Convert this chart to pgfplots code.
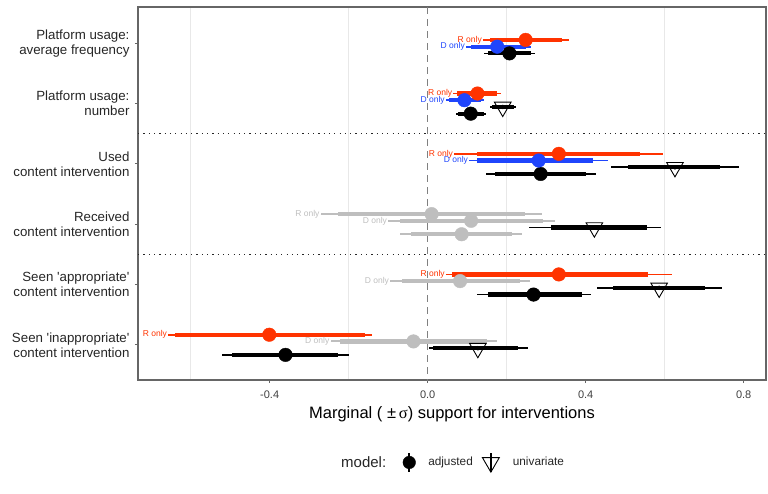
\documentclass[border=0pt]{standalone}
\usepackage{fontspec}
\setmainfont{Liberation Sans}
\newfontfamily\symfont{Liberation Serif}
\usepackage{pgfplots}
\pgfplotsset{compat=1.18}
\usepackage{pgfplotstable}

\definecolor{rred}{HTML}{FF3300}
\definecolor{dblue}{HTML}{1F45FC}
\definecolor{ngray}{HTML}{BEBEBE}

% columns: y position, estimate, thin interval (lo, hi), thick interval (lo, hi)
\pgfplotstableread{
y x tlo thi klo khi
0.944 0.248 0.140 0.358 0.157 0.340
1.833 0.126 0.065 0.185 0.075 0.176
2.833 0.332 0.067 0.595 0.124 0.537
4.833 0.332 0.046 0.619 0.061 0.559
5.833 -0.401 -0.657 -0.141 -0.639 -0.159
}\Rred
\pgfplotstableread{
y x tlo thi klo khi
3.833 0.010 -0.271 0.289 -0.226 0.246
}\Rgray
\pgfplotstableread{
y x tlo thi klo khi
1.056 0.176 0.097 0.262 0.110 0.248
1.944 0.093 0.046 0.142 0.054 0.134
2.944 0.281 0.105 0.457 0.124 0.419
}\Dblue
\pgfplotstableread{
y x tlo thi klo khi
3.944 0.110 -0.100 0.322 -0.070 0.293
4.944 0.082 -0.095 0.259 -0.066 0.234
5.944 -0.036 -0.246 0.175 -0.222 0.149
}\Dgray
\pgfplotstableread{
y x tlo thi klo khi
2.056 0.190 0.158 0.224 0.163 0.218
3.056 0.626 0.463 0.789 0.508 0.740
4.056 0.422 0.257 0.591 0.311 0.556
5.056 0.586 0.429 0.744 0.470 0.702
6.056 0.127 0.004 0.253 0.014 0.229
}\Univ
\pgfplotstableread{
y x tlo thi klo khi
1.167 0.207 0.142 0.272 0.152 0.262
2.167 0.109 0.072 0.148 0.078 0.142
3.167 0.286 0.148 0.425 0.170 0.402
5.167 0.268 0.124 0.413 0.153 0.390
6.167 -0.360 -0.522 -0.198 -0.496 -0.226
}\Adj
\pgfplotstableread{
y x tlo thi klo khi
4.167 0.086 -0.070 0.240 -0.042 0.213
}\Adjgray

% #1 table, #2 colour, #3 thin width, #4 thick width, #5 marker options
\newcommand{\series}[5]{%
  \addplot[forget plot, only marks, mark=none, color=#2,
    error bars/.cd, x dir=both, x explicit, error mark=none,
    error bar style={line width=#3, color=#2}]
    table[x=x, y=y, x error plus expr=\thisrow{thi}-\thisrow{x},
          x error minus expr=\thisrow{x}-\thisrow{tlo}] {#1};
  \addplot[forget plot, only marks, color=#2, #5,
    error bars/.cd, x dir=both, x explicit, error mark=none,
    error bar style={line width=#4, color=#2}]
    table[x=x, y=y, x error plus expr=\thisrow{khi}-\thisrow{x},
          x error minus expr=\thisrow{x}-\thisrow{klo}] {#1};
}
% #1 table, #2 colour, #3 text
\newcommand{\seriesLabel}[3]{%
  \addplot[forget plot, only marks, mark=*, mark size=0pt,
    mark options={draw=none, fill=none},
    nodes near coords={#3},
    nodes near coords style={anchor=east, text=#2, inner sep=1pt,
      font=\fontsize{8.5}{9}\selectfont}]
    table[x=tlo, y=y] {#1};
}

\begin{document}
\begin{tikzpicture}
\useasboundingbox (-138pt,-114pt) rectangle (630pt,380pt);
\begin{axis}[
  at={(0,0)}, anchor=south west,
  scale only axis, width=628pt, height=373pt,
  xmin=-0.7334, xmax=0.8565, ymin=0.398, ymax=6.584, y dir=reverse,
  xtick={-0.4,0,0.4,0.8}, xticklabels={-0.4,0.0,0.4,0.8},
  minor xtick={-0.6,-0.2,0.2,0.6}, xminorgrids=true,
  minor x grid style={black!9, line width=0.7pt},
  minor tick length=0pt,
  ytick={1,2,3,4,5,6},
  yticklabels={{Platform usage:\\average frequency},{Platform usage:\\number},{Used\\content intervention},{Received\\content intervention},{Seen \textquotesingle appropriate\textquotesingle\\content intervention},{Seen \textquotesingle inappropriate\textquotesingle\\content intervention}},
  tick align=outside, major tick length=3pt,
  xtick pos=left, ytick pos=left,
  tick style={black!60, line width=0.8pt},
  axis line style={black!60, line width=1.1pt},
  xticklabel style={font=\fontsize{11}{13}\selectfont, text=black!75, yshift=-4pt},
  yticklabel style={align=right, font=\fontsize{13.3}{15}\selectfont, text=black!85, xshift=-2pt},
  xlabel={Marginal (~±\,{\symfont σ}) support for interventions},
  xlabel style={font=\fontsize{16.5}{19}\selectfont, yshift=-1pt},
  legend style={at={(0.501,-0.221)}, anchor=center, draw=none, fill=none,
    legend columns=-1, font=\fontsize{11.8}{14}\selectfont, text=black!85,
    /tikz/every even column/.append style={column sep=0pt}},
]
\addplot[forget plot, black!50, line width=0.9pt, dash pattern=on 7pt off 5pt] coordinates {(0,0.2) (0,6.8)};
\addplot[forget plot, black!85, line width=1.2pt, dash pattern=on 1.2pt off 4.1pt] coordinates {(-0.8,2.5) (0.9,2.5)};
\addplot[forget plot, black!85, line width=1.2pt, dash pattern=on 1.2pt off 4.1pt] coordinates {(-0.8,4.5) (0.9,4.5)};

\series{\Rgray}{ngray}{1.9pt}{4.3pt}{mark=*, mark size=6.8pt}
\series{\Dgray}{ngray}{1.9pt}{4.3pt}{mark=*, mark size=6.8pt}
\series{\Adjgray}{ngray}{1.9pt}{4.3pt}{mark=*, mark size=6.8pt}
\series{\Univ}{black}{1.7pt}{4.2pt}{mark=triangle, mark size=9.6pt, mark options={rotate=180, line width=0.9pt, fill=none}}
\series{\Adj}{black}{1.7pt}{4.2pt}{mark=*, mark size=6.8pt}
\series{\Dblue}{dblue}{1.7pt}{4.2pt}{mark=*, mark size=6.8pt}
\series{\Rred}{rred}{1.7pt}{4.2pt}{mark=*, mark size=6.8pt}

\seriesLabel{\Rred}{rred}{R only}
\seriesLabel{\Rgray}{ngray}{R only}
\seriesLabel{\Dblue}{dblue}{D only}
\seriesLabel{\Dgray}{ngray}{D only}

\addlegendimage{empty legend}
\addlegendentry{\fontsize{15}{17}\selectfont model:}
\addlegendimage{legend image code/.code={\path[draw=none,fill=none] (0.3cm-21pt,0pt) rectangle (0.3cm+17pt,0.1pt); \draw[black,line width=1.6pt](0.3cm,-9.5pt)--(0.3cm,9.5pt); \fill[black](0.3cm,0pt) circle (6.3pt);}}
\addlegendentry{adjusted}
\addlegendimage{legend image code/.code={\path[draw=none,fill=none] (0.3cm-16pt,0pt) rectangle (0.3cm+20pt,0.1pt); \draw[black,line width=1.6pt](0.3cm,-9.5pt)--(0.3cm,9.5pt); \draw[black,line width=0.9pt] (0.3cm-8.4pt,4.75pt)--(0.3cm+8.4pt,4.75pt)--(0.3cm,-9.7pt)--cycle;}}
\addlegendentry{univariate}
\end{axis}
\end{tikzpicture}
\end{document}
